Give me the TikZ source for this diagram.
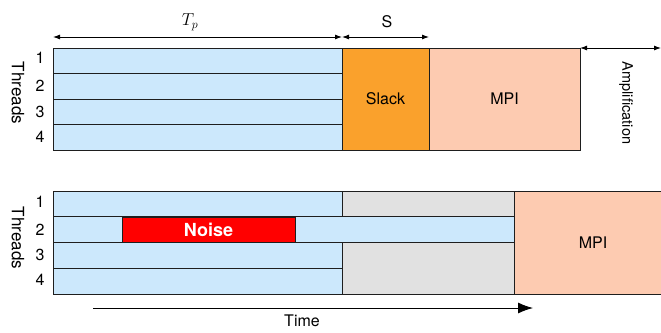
\documentclass[tikz,border=0pt]{standalone}
\usepackage{fontspec}
\setmainfont{TeX Gyre Heros}
\usetikzlibrary{arrows.meta,calc}
\definecolor{threadblue}{RGB}{204,232,252}
\definecolor{slackorange}{RGB}{250,161,44}
\definecolor{mpipeach}{RGB}{253,203,177}
\definecolor{waitgray}{RGB}{225,225,225}
\definecolor{noisered}{RGB}{255,0,0}
\definecolor{edge}{RGB}{30,30,30}
\begin{document}
\begin{tikzpicture}[x=1pt,y=-1pt,
  blk/.style={draw=edge, line width=0.9pt, anchor=north west, inner sep=0pt, outer sep=0pt},
  thr/.style={blk, fill=threadblue},
  lbl/.style={font=\fontsize{16}{18}\selectfont, inner sep=0pt},
  num/.style={font=\fontsize{16}{18}\selectfont, inner sep=0pt},
  axislbl/.style={font=\fontsize{17}{19}\selectfont, inner sep=0pt, rotate=-90},
  dim/.style={draw=black, line width=0.9pt, {Latex[length=7pt,width=5pt]}-{Latex[length=7pt,width=5pt]}},
  timearrow/.style={draw=black, line width=0.9pt, -{Latex[length=15pt,width=11pt]}}]
\useasboundingbox (0,0) rectangle (661,332);

% ---- upper schedule: balanced threads, slack, MPI ----
\node[thr, minimum width=289pt, minimum height=25.5pt] (a1) at (53,48) {};
\node[thr, minimum width=289pt, minimum height=25.5pt] (a2) at (53,73.5) {};
\node[thr, minimum width=289pt, minimum height=25.5pt] (a3) at (53,99) {};
\node[thr, minimum width=289pt, minimum height=25.5pt] (a4) at (53,124.5) {};
\node[blk, fill=slackorange, minimum width=87pt, minimum height=102pt] (slack) at (342,48) {};
\node[lbl] at (slack.center) {Slack};
\node[blk, fill=mpipeach, minimum width=151pt, minimum height=102pt] (mpiA) at (429,48) {};
\node[lbl] at (mpiA.center) {MPI};

\foreach \i/\y in {1/58,2/86,3/112,4/137} \node[num] (na\i) at (40,\y) {\i};
\node[axislbl] (thA) at (18,93) {Threads};

% dimension arrows
\coordinate (tpL) at ($(a1.north west)+(0,-11)$);
\coordinate (tpR) at ($(a1.north east)+(0,-11)$);
\coordinate (sR) at ($(slack.north east)+(0,-11)$);
\draw[dim] (tpL) -- (tpR);
\draw[dim] (tpR) -- (sR);
\node[font=\fontsize{17}{19}\selectfont, inner sep=0pt] (tp) at (190,22) {$T_p$};
\node[lbl] (s) at (387,22) {S};
\coordinate (ampR) at (661,48);
\draw[dim] (mpiA.north east) -- (ampR);
\node[font=\fontsize{14.5}{16}\selectfont, inner sep=0pt, rotate=-90] (amp) at (626,103) {Amplification};

% ---- lower schedule: noise on thread 2 ----
\node[thr, minimum width=289pt, minimum height=25.75pt] (b1) at (53,191) {};
\node[blk, fill=waitgray, minimum width=172pt, minimum height=25.75pt] (g1) at (342,191) {};
\node[thr, minimum width=461pt, minimum height=25.75pt] (b2) at (53,216.75) {};
\node[thr, minimum width=289pt, minimum height=25.75pt] (b3) at (53,242.5) {};
\node[thr, minimum width=289pt, minimum height=25.75pt] (b4) at (53,268.25) {};
\node[blk, fill=waitgray, minimum width=172pt, minimum height=51.5pt] (g2) at (342,242.5) {};
\node[blk, fill=noisered, minimum width=173pt, minimum height=25pt] (noise) at (122,217.25) {};
\node[font=\bfseries\fontsize{18}{20}\selectfont, text=white, inner sep=0pt] at (noise.center) {Noise};
\node[blk, fill=mpipeach, minimum width=160pt, minimum height=103pt] (mpiB) at (514,191) {};
\node[lbl] at (593,242.5) {MPI};

\foreach \i/\y in {1/202,2/230,3/255,4/280} \node[num] (nb\i) at (40,\y) {\i};
\node[axislbl] (thB) at (18,238) {Threads};

% time axis
\coordinate (t0) at (93,308);
\coordinate (t1) at (533,308);
\draw[timearrow] (t0) -- (t1);
\node[lbl] (time) at (302,321) {Time};
\end{tikzpicture}
\end{document}
